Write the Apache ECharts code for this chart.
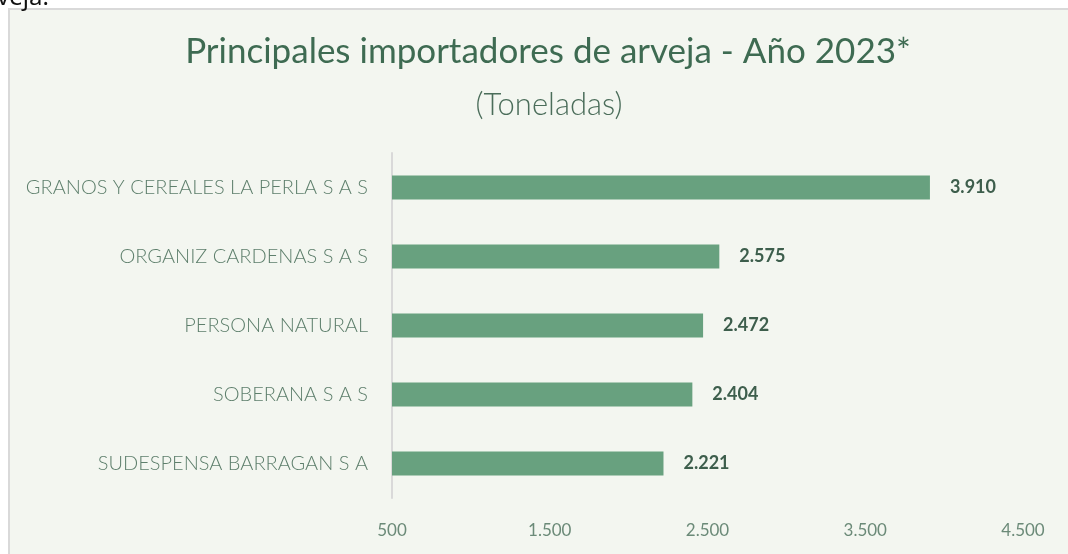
<!DOCTYPE html>
<html>
<head>
<meta charset="UTF-8">
<title>Principales importadores de arveja</title>
<script src="https://cdn.jsdelivr.net/npm/echarts@6/dist/echarts.min.js"></script>
<style>
  html, body { margin: 0; padding: 0; background: #ffffff; }
  #main { width: 1068px; height: 554px; }
</style>
</head>
<body>
<div id="main"></div>
<script>
// datos
var empresas = ['GRANOS Y CEREALES LA PERLA S A S', 'ORGANIZ CARDENAS S A S', 'PERSONA NATURAL', 'SOBERANA S A S', 'SUDESPENSA BARRAGAN S A'];
var toneladas = [3910, 2575, 2472, 2404, 2221];
var ejeMin = 500, ejeMax = 4500, ejePaso = 1000;

function miles(v) {
  return String(v).replace(/\B(?=(\d{3})+(?!\d))/g, '.');
}

var chart = echarts.init(document.getElementById('main'));

var option = {
  backgroundColor: '#ffffff',
  animation: false,
  graphic: [
    // recuadro del grafico
    {
      type: 'rect', z: -10,
      shape: { x: 9, y: 9, width: 1100, height: 600 },
      style: { fill: '#f3f6f0', stroke: '#d9d9d9', lineWidth: 2 }
    },
    // texto del documento cortado arriba
    {
      type: 'text', left: -3, top: -14,
      style: { text: 'veja.', font: '24px "Noto Sans"', fill: '#111111' }
    }
  ],
  title: [
    {
      text: 'Principales importadores de arveja - Año 2023*',
      left: 543, top: 29, textAlign: 'center',
      textStyle: { color: '#3e6b52', fontSize: 35, fontWeight: 'normal', fontFamily: 'Lato' }
    },
    {
      text: '(Toneladas)',
      left: 544, top: 84, textAlign: 'center',
      textStyle: { color: '#4b6d5a', fontSize: 31, fontWeight: 300, fontFamily: 'Lato' }
    }
  ],
  grid: { left: 392, right: 45, top: 153, bottom: 56, containLabel: false },
  xAxis: {
    type: 'value',
    min: ejeMin, max: ejeMax, interval: ejePaso,
    axisLine: { show: false },
    axisTick: { show: false },
    splitLine: { show: false },
    axisLabel: {
      margin: 24,
      color: '#6b8a78', fontSize: 17, fontFamily: 'Lato',
      formatter: function (v) { return miles(v); }
    }
  },
  yAxis: {
    type: 'category',
    data: empresas,
    inverse: true,
    axisLine: { show: true, lineStyle: { color: '#d9d9d9', width: 2 } },
    axisTick: { show: false },
    axisLabel: {
      margin: 24,
      color: '#5e7f6c', fontSize: 20, fontWeight: 300, fontFamily: 'Lato'
    }
  },
  series: [{
    type: 'bar',
    data: toneladas,
    barWidth: 24,
    itemStyle: { color: '#68a17f' },
    label: {
      show: true, position: 'right', distance: 20,
      color: '#3d5e4c', fontSize: 18, fontWeight: 'bold', fontFamily: 'Lato',
      formatter: function (p) { return miles(p.value); }
    }
  }]
};

chart.setOption(option);
</script>
</body>
</html>
